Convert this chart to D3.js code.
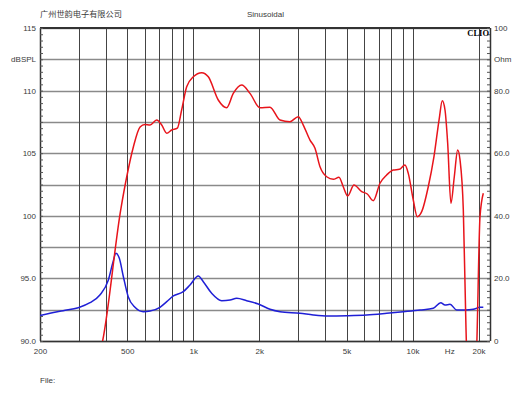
<!DOCTYPE html>
<html><head><meta charset="utf-8">
<script src="https://cdn.jsdelivr.net/npm/d3@7"></script>
<style>
html,body{margin:0;padding:0;background:#fff;}
text{font-family:"Liberation Sans",Arial,sans-serif;fill:#3a3a3a;}
</style></head>
<body><svg id="c" width="530" height="398"></svg>
<script>
// ---- data ----
const redFreq = [370, 386, 467, 497, 533, 572, 602, 635, 681, 718, 757, 797, 846, 885, 933, 1000, 1093, 1171, 1300, 1420, 1522, 1663, 1814, 2015, 2238, 2486, 2760, 3012, 3174, 3406, 3590, 3784, 4058, 4350, 4618, 4830, 5060, 5406, 5862, 6217, 6621, 7103, 7621, 8166, 8700, 9234, 9560, 10076, 10510, 11006, 11794, 12520, 13240, 13660, 14060, 14460, 14960, 15500, 16060, 16460, 17040, 17520, 17900, 18600, 19300, 19650, 20300, 21020];
const redDb = [88.6, 90.0, 100.5, 103.1, 105.5, 107.1, 107.3, 107.25, 107.65, 107.25, 106.6, 106.85, 107.0, 108.45, 110.3, 111.1, 111.43, 111.1, 109.25, 108.63, 109.78, 110.45, 109.78, 108.63, 108.67, 107.65, 107.52, 107.92, 107.25, 106.05, 105.39, 103.92, 103.12, 102.92, 103.07, 102.32, 101.58, 102.46, 101.93, 101.74, 101.21, 102.6, 103.26, 103.66, 103.71, 104.06, 103.39, 101.26, 99.93, 100.33, 102.32, 104.72, 107.79, 109.19, 108.45, 105.79, 101.0, 103.12, 105.26, 104.46, 100.46, 91.1, 86, 84, 86, 90, 99.9, 101.8];
const blueFreq = [200, 222, 255, 299, 338, 375, 410, 429, 444, 460, 480, 505, 542, 592, 635, 705, 757, 811, 900, 966, 1054, 1111, 1213, 1348, 1471, 1578, 1752, 1979, 2238, 2486, 3066, 3526, 4128, 5006, 6176, 7621, 9074, 10810, 12430, 13440, 14060, 14820, 15890, 17340, 18920, 20300, 21020];
const blueOhm = [8.15, 8.85, 9.68, 10.64, 12.24, 14.7, 19.49, 24.82, 28.02, 26.4, 20.54, 14.15, 10.77, 9.36, 9.58, 10.77, 12.56, 14.38, 15.75, 17.89, 20.77, 18.95, 15.24, 12.88, 13.1, 13.64, 12.88, 11.82, 10.13, 9.36, 8.85, 8.31, 7.99, 8.08, 8.31, 8.85, 9.36, 9.9, 10.45, 12.24, 11.5, 11.73, 9.9, 9.9, 10.13, 10.77, 10.77];
const xGrid = [300, 400, 500, 600, 700, 800, 900, 1000, 2000, 3000, 4000, 5000, 6000, 7000, 8000, 9000, 10000, 20000];
const xTickVals = [200, 500, 1000, 2000, 5000, 10000, 14700, 20000];
const xTickLabels = ["200", "500", "1k", "2k", "5k", "10k", "Hz", "20k"];
const yLeftVals = [90, 95, 100, 105, 110, 112.5, 115];
const yLeftLabels = ["90.0", "95.0", "100", "105", "110", "dBSPL", "115"];
const yRightVals = [0, 20, 40, 60, 80, 90, 100];
const yRightLabels = ["0", "20.0", "40.0", "60.0", "80.0", "Ohm", "100"];

// ---- layout ----
const L = 40, R = 490, T = 28, B = 341;
const svg = d3.select("#c");
const x = d3.scaleLog().domain([200, 22550]).range([L, R]);
const yL = d3.scaleLinear().domain([90, 115]).range([B, T]);
const yR = d3.scaleLinear().domain([0, 100]).range([B, T]);

// grid
const hg = d3.range(90, 115.01, 2.5);
svg.append("g").selectAll("line").data(hg).join("line")
  .attr("x1", L).attr("x2", R).attr("y1", d => Math.round(yL(d)) + 0.5).attr("y2", d => Math.round(yL(d)) + 0.5)
  .attr("stroke", "#8a8a8a").attr("stroke-width", 1.3);
svg.append("g").selectAll("line").data(xGrid).join("line")
  .attr("x1", d => Math.round(x(d)) + 0.5).attr("x2", d => Math.round(x(d)) + 0.5).attr("y1", T).attr("y2", B)
  .attr("stroke", "#444").attr("stroke-width", 1);

// frame
svg.append("line").attr("x1", L).attr("x2", R).attr("y1", T).attr("y2", T).attr("stroke", "#333").attr("stroke-width", 2);
svg.append("line").attr("x1", L).attr("x2", R).attr("y1", B + 0.5).attr("y2", B + 0.5).attr("stroke", "#333").attr("stroke-width", 1.5);
svg.append("line").attr("x1", L + 0.5).attr("x2", L + 0.5).attr("y1", T).attr("y2", B).attr("stroke", "#333").attr("stroke-width", 1.5);
svg.append("line").attr("x1", R + 0.5).attr("x2", R + 0.5).attr("y1", T).attr("y2", B).attr("stroke", "#333").attr("stroke-width", 1.5);

// axes
function styleAxis(g) { g.select(".domain").remove(); g.selectAll("text").style("font-size", "8px").attr("fill", "#3a3a3a"); }
svg.append("g").attr("transform", `translate(${L},0)`)
  .call(d3.axisLeft(yL).tickValues(yLeftVals).tickFormat((d, i) => yLeftLabels[i]).tickSize(0).tickPadding(4))
  .call(styleAxis);
svg.append("g").attr("transform", `translate(${L},0)`)
  .call(d3.axisLeft(yL).tickValues(d3.range(90, 115.01, 0.5)).tickFormat("").tickSize(-3))
  .call(g => { g.select(".domain").remove(); g.selectAll("line").attr("stroke", "#555"); });
svg.append("g").attr("transform", `translate(${R},0)`)
  .call(d3.axisRight(yR).tickValues(yRightVals).tickFormat((d, i) => yRightLabels[i]).tickSize(0).tickPadding(4))
  .call(styleAxis);
svg.append("g").attr("transform", `translate(${R},0)`)
  .call(d3.axisRight(yR).tickValues(d3.range(0, 100.01, 2)).tickFormat("").tickSize(-3))
  .call(g => { g.select(".domain").remove(); g.selectAll("line").attr("stroke", "#555"); });
svg.append("g").attr("transform", `translate(0,${B})`)
  .call(d3.axisBottom(x).tickValues(xTickVals).tickFormat((d, i) => xTickLabels[i]).tickSize(0).tickPadding(7))
  .call(styleAxis);

// curves
svg.append("clipPath").attr("id", "clip").append("rect").attr("x", L).attr("y", T).attr("width", R - L).attr("height", B - T);
const lineR = d3.line().x((d, i) => x(redFreq[i])).y(d => yL(d)).curve(d3.curveMonotoneX);
const lineB = d3.line().x((d, i) => x(blueFreq[i])).y(d => yR(d)).curve(d3.curveMonotoneX);
svg.append("path").datum(blueOhm).attr("d", lineB).attr("clip-path", "url(#clip)")
  .attr("fill", "none").attr("stroke", "#1f1fd6").attr("stroke-width", 1.5);
svg.append("path").datum(redDb).attr("d", lineR).attr("clip-path", "url(#clip)")
  .attr("fill", "none").attr("stroke", "#e8141b").attr("stroke-width", 1.5);

// texts
svg.append("text").attr("x", L).attr("y", 17).style("font-family", "'Noto Sans CJK SC',sans-serif").style("font-size", "8.2px").text("广州世韵电子有限公司");
svg.append("text").attr("x", 247).attr("y", 17).style("font-size", "8px").text("Sinusoidal");
svg.append("text").attr("x", R - 1).attr("y", 36).attr("text-anchor", "end")
  .style("font-family", "'Liberation Serif','Times New Roman',serif").style("font-weight", "bold").style("font-size", "8.5px").attr("fill", "#000").style("fill", "#000").text("CLIO");
svg.append("text").attr("x", L).attr("y", 383).style("font-size", "8px").text("File:");
</script></body></html>
